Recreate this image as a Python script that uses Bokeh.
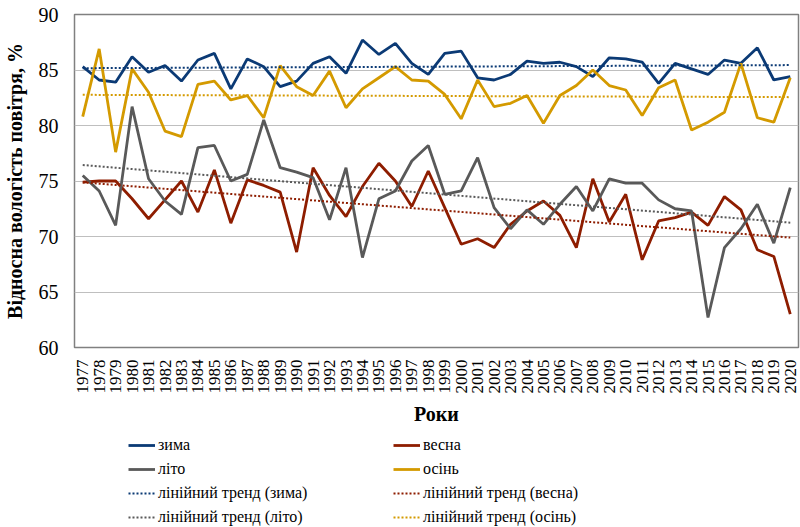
import numpy as np
from bokeh.plotting import figure
from bokeh.layouts import column
from bokeh.models import Range1d, FixedTicker, Legend, LegendItem
from bokeh.embed import file_html
from bokeh.resources import INLINE

years = [str(y) for y in range(1977, 2021)]

winter = [85.3, 84.1, 83.9, 86.2, 84.8, 85.4, 84.0, 85.9, 86.5, 83.3,
          86.0, 85.3, 83.5, 84.0, 85.6, 86.2, 84.7, 87.7, 86.4, 87.4,
          85.6, 84.6, 86.5, 86.7, 84.3, 84.1, 84.6, 85.8, 85.6, 85.7,
          85.3, 84.4, 86.1, 86.0, 85.7, 83.8, 85.6, 85.1, 84.6, 85.9,
          85.6, 87.0, 84.1, 84.4]
spring = [74.9, 75.0, 75.0, 73.4, 71.6, 73.3, 75.0, 72.2, 76.0, 71.2,
          75.1, 74.6, 74.0, 68.6, 76.2, 73.7, 71.8, 74.5, 76.6, 75.0,
          72.7, 75.9, 72.6, 69.3, 69.8, 69.0, 71.1, 72.3, 73.2, 71.9,
          69.0, 75.2, 71.3, 73.8, 67.9, 71.4, 71.7, 72.2, 71.0, 73.6,
          72.4, 68.8, 68.2, 63.0]
summer = [75.5, 74.1, 71.0, 81.7, 75.2, 73.2, 72.0, 78.0, 78.2, 75.0,
          75.6, 80.5, 76.2, 75.8, 75.3, 71.5, 76.2, 68.1, 73.4, 74.1,
          76.8, 78.2, 73.8, 74.1, 77.1, 72.6, 70.7, 72.4, 71.1, 72.9,
          74.5, 72.3, 75.2, 74.8, 74.8, 73.3, 72.5, 72.3, 62.7, 69.0,
          70.7, 72.9, 69.4, 74.4]
autumn = [80.8, 86.9, 77.6, 85.1, 83.0, 79.5, 79.0, 83.7, 84.0, 82.3,
          82.7, 80.7, 85.4, 83.5, 82.7, 84.9, 81.6, 83.3, 84.3, 85.3,
          84.1, 84.0, 82.8, 80.6, 84.1, 81.7, 82.0, 82.7, 80.2, 82.7,
          83.6, 85.0, 83.6, 83.2, 80.9, 83.4, 84.1, 79.6, 80.3, 81.2,
          85.6, 80.7, 80.3, 84.3]

names = ["зима", "весна", "літо", "осінь"]
trend_names = ["лінійний тренд (зима)", "лінійний тренд (весна)",
               "лінійний тренд (літо)", "лінійний тренд (осінь)"]
colors = ["#0B3A75", "#8E1D00", "#595959", "#D49A00"]
series = [winter, spring, summer, autumn]
y_ticks = [60, 65, 70, 75, 80, 85, 90]

FONT = "Liberation Serif"
LW = 2.8
TW = 2
DASH = "2 2"
W = 800

p = figure(x_range=years, y_range=Range1d(60, 90), width=W, height=433,
           output_backend="svg", toolbar_location=None,
           min_border_left=70, min_border_top=14, min_border_right=2,
           min_border_bottom=86)

idx = np.arange(len(years))
for vals, col in zip(series, colors):
    p.line(years, vals, line_color=col, line_width=LW)
for vals, col in zip(series, colors):
    k, b = np.polyfit(idx, np.array(vals), 1)
    ends = [years[0], years[-1]]
    tv = [b, b + k * idx[-1]]
    p.line(ends, tv, line_color=col, line_width=TW, line_dash=DASH)

p.yaxis.ticker = FixedTicker(ticks=y_ticks)
p.ygrid.ticker = FixedTicker(ticks=y_ticks)
p.xgrid.grid_line_color = None
p.ygrid.grid_line_color = "#BFBFBF"
p.ygrid.grid_line_width = 1.2
p.outline_line_color = "#808080"
p.outline_line_width = 1.5

for ax in (p.xaxis[0], p.yaxis[0]):
    ax.axis_line_color = None
    ax.major_tick_line_color = None
    ax.minor_tick_line_color = None
    ax.major_label_text_font = FONT
    ax.major_label_text_color = "#000000"
    ax.axis_label_text_font = FONT
    ax.axis_label_text_font_style = "bold"
    ax.axis_label_text_color = "#000000"
    ax.axis_label_text_font_size = "20px"

p.yaxis.axis_label = "Відносна вологість повітря, %"
p.yaxis.major_label_text_font_size = "20px"
p.yaxis.major_label_standoff = 10
p.yaxis.axis_label_standoff = 10

p.xaxis.axis_label = "Роки"
p.xaxis.major_label_orientation = np.pi / 2
p.xaxis.major_label_text_font_size = "17px"
p.xaxis.major_label_standoff = 6
p.xaxis.axis_label_standoff = 6

# legend panel
lg = figure(width=W, height=94, x_range=Range1d(0, 1), y_range=Range1d(0, 1),
            output_backend="svg", toolbar_location=None,
            min_border=0, min_border_left=0, min_border_right=0,
            min_border_top=0, min_border_bottom=0)
lg.axis.visible = False
lg.grid.grid_line_color = None
lg.outline_line_color = None

hid_x = [5, 6]
hid_y = [5, 6]
solid = [lg.line(hid_x, hid_y, line_color=c, line_width=LW) for c in colors]
dotted = [lg.line(hid_x, hid_y, line_color=c, line_width=TW, line_dash=DASH)
          for c in colors]

left_items = [LegendItem(label=names[0], renderers=[solid[0]]),
              LegendItem(label=names[2], renderers=[solid[2]]),
              LegendItem(label=trend_names[0], renderers=[dotted[0]]),
              LegendItem(label=trend_names[2], renderers=[dotted[2]])]
right_items = [LegendItem(label=names[1], renderers=[solid[1]]),
               LegendItem(label=names[3], renderers=[solid[3]]),
               LegendItem(label=trend_names[1], renderers=[dotted[1]]),
               LegendItem(label=trend_names[3], renderers=[dotted[3]])]

for its, x in ((left_items, 54), (right_items, 319)):
    leg = Legend(items=its, location=(x, 0), border_line_color=None,
                 background_fill_alpha=0, padding=0, margin=0,
                 spacing=4, glyph_width=27, glyph_height=20,
                 label_height=20, label_standoff=3,
                 label_text_font=FONT, label_text_font_size="16px",
                 label_text_color="#000000")
    lg.add_layout(leg)

open("out.html", "w").write(file_html(column(p, lg), INLINE))
